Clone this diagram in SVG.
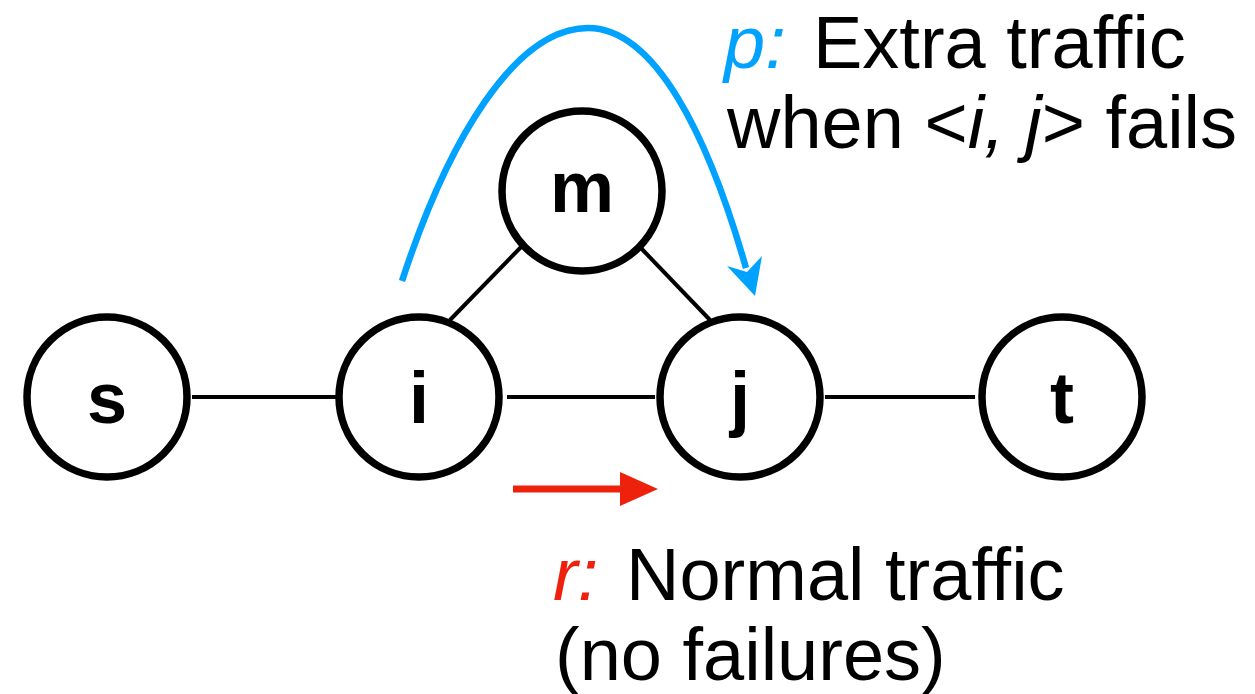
<svg xmlns="http://www.w3.org/2000/svg" width="1255" height="694" viewBox="0 0 1255 694">
<style>
.node{fill:#fff;stroke:#000;stroke-width:7.5}
.lbl{font-family:"Liberation Sans",Arial,sans-serif;font-weight:bold;font-size:72px;text-anchor:middle;fill:#000}
.edge{stroke:#000;stroke-width:4;fill:none}
.txt{font-family:"Liberation Sans",Arial,sans-serif;font-size:74px;fill:#000}
</style>
<g id="connectors">
<line class="edge" x1="192" y1="397" x2="337" y2="397"/>
<line class="edge" x1="507" y1="397" x2="655" y2="397"/>
<line class="edge" x1="825" y1="397" x2="975" y2="397"/>
<line class="edge" x1="523" y1="245" x2="450" y2="320"/>
<line class="edge" x1="638" y1="245" x2="710" y2="320"/>
<path d="M402,281 C448,140 515,28 588,28 C655,28 708,135 746,268" fill="none" stroke="#00A2FF" stroke-width="6.5"/>
<polygon points="755,296 727,266 747,272 762,256" fill="#00A2FF"/>
<line x1="513" y1="489" x2="625" y2="489" stroke="#EE220C" stroke-width="7"/>
<polygon points="620,472 658,489 620,506" fill="#EE220C"/>
</g>
<g id="node-s"><circle class="node" cx="107" cy="397" r="80"/><text class="lbl" x="107" y="423">s</text></g>
<g id="node-i"><circle class="node" cx="419" cy="397" r="80"/><text class="lbl" x="419" y="423">i</text></g>
<g id="node-j"><circle class="node" cx="740" cy="397" r="80"/><text class="lbl" x="740" y="423">j</text></g>
<g id="node-t"><circle class="node" cx="1062" cy="397" r="80"/><text class="lbl" x="1062" y="423">t</text></g>
<g id="node-m"><circle class="node" cx="582" cy="191" r="80"/><text class="lbl" x="582" y="212">m</text></g>
<g id="labels">
<text class="txt" x="724" y="68"><tspan fill="#00A2FF" font-style="italic">p:</tspan><tspan x="813">Extra traffic</tspan></text>
<text class="txt" x="727" y="148">when &lt;<tspan font-style="italic">i, j</tspan>&gt; fails</text>
<text class="txt" x="553" y="600"><tspan fill="#EE220C" font-style="italic">r:</tspan><tspan x="626">Normal traffic</tspan></text>
<text class="txt" x="555" y="680">(no failures)</text>
</g>
</svg>
